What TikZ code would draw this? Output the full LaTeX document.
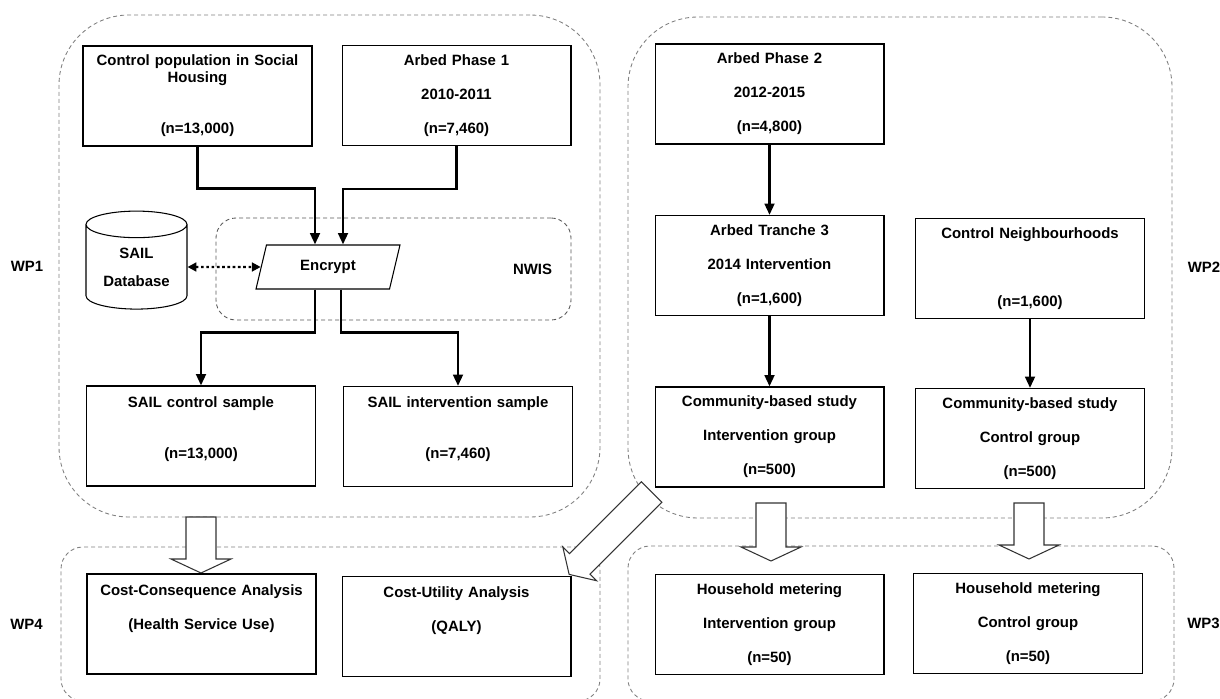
\documentclass[tikz,border=0pt]{standalone}
\usepackage{fontspec}
\setmainfont{Liberation Sans}
\usetikzlibrary{positioning,calc,fit,shapes.geometric,arrows.meta}

\begin{document}
\begin{tikzpicture}[x=0.02cm, y=-0.02cm,
    every node/.style={font=\bfseries\fontsize{8.5}{9.68}\selectfont},
    stagebox/.style={draw, line width=0.6pt, fill=white, minimum width=4.58cm, minimum height=2cm,
      text width=4.4cm, align=center, inner sep=0pt},
    wpgroup/.style={draw=gray, line width=0.5pt, dash pattern=on 0.08cm off 0.06cm,
      rounded corners=1.4cm, inner sep=0pt},
    wpsmall/.style={wpgroup, rounded corners=0.44cm},
    flow/.style={line width=1.5pt, -{Triangle[length=6.5pt,width=5.5pt]}},
    dbline/.style={line width=1.2pt, dash pattern=on 1.5pt off 1.5pt,
      {Triangle[length=5pt,width=5pt]}-{Triangle[length=5pt,width=5pt]}},
    hollowarrow/.style={draw=black!80, line width=0.6pt, fill=white},
    wplabel/.style={inner sep=0pt}]

  \useasboundingbox (0,0) rectangle (1220,699);

  % Work package groups
  \node[wpgroup, fit={(59,15) (600,517)}] (wp1) {};
  \node[wpgroup, fit={(628,17) (1172,518)}] (wp2) {};
  \node[wpsmall, fit={(628,546) (1174,701)}] (wp3) {};
  \node[wpsmall, fit={(61,547) (600,701)}] (wp4) {};
  \node[wpsmall, draw=black!65, rounded corners=0.4cm, fit={(216,218) (571,320)}] (nwis) {};

  \node[wplabel, left=0.3cm of wp1] (wp1lbl) {WP1};
  \node[wplabel, right=0.3cm of wp2] (wp2lbl) {WP2};
  \node[wplabel, right=0.25cm of wp3] (wp3lbl) {WP3};
  \node[wplabel, left=0.35cm of wp4] (wp4lbl) {WP4};
  \node[wplabel, left=0.38cm of nwis.east] (nwislbl) {NWIS};

  % Hollow arrows between work packages
  \foreach \ax/\ya/\yb in {201/517/573, 771/503/561, 1029/503/559} {
      \draw[hollowarrow] (\ax-15,\ya) -- (\ax+15,\ya) -- (\ax+15,\yb-14) -- (\ax+30,\yb-14)
        -- (\ax,\yb) -- (\ax-30,\yb-14) -- (\ax-15,\yb-14) -- cycle;
  }
  \begin{scope}[shift={(651.5,492)}, rotate=225]
      \draw[hollowarrow] (0,-14.5) -- (101.5,-14.5) -- (101.5,-24) -- (116.5,0)
        -- (101.5,24) -- (101.5,14.5) -- (0,14.5) -- cycle;
  \end{scope}

  % WP1
  \node[stagebox] (ctrlpop) at (197.5,96) {Control population in Social\\Housing\\~\\~\\(n=13,000)};
  \node[stagebox] (arbed1) at (456.5,95.5) {Arbed Phase 1\\~\\2010-2011\\~\\(n=7,460)};
  \node[cylinder, shape border rotate=90, aspect=0.4, draw, line width=0.6pt, fill=white,
    minimum width=2.02cm, minimum height=1.96cm, align=center, inner sep=0pt] (saildb) at (136.5,267)
    {SAIL\\[0.22cm]Database};
  \node[trapezium, trapezium left angle=52, trapezium right angle=128, trapezium stretches body,
    draw, line width=0.6pt, fill=white, minimum width=2.88cm, minimum height=0.88cm,
    inner sep=0pt] (encrypt) at (328,267) {Encrypt};
  \node[stagebox] (sailctrl) at (201,436) {SAIL control sample\\~\\~\\(n=13,000)\\~};
  \node[stagebox] (sailint) at (458,436.5) {SAIL intervention sample\\~\\~\\(n=7,460)\\~};

  % WP4
  \node[stagebox] (ccanal) at (201.5,624) {Cost-Consequence Analysis\\~\\(Health Service Use)\\~\\~};
  \node[stagebox] (cuanal) at (456.5,626.5) {Cost-Utility Analysis\\~\\(QALY)\\~\\~};

  % WP2
  \node[stagebox] (arbed2) at (769.5,94) {Arbed Phase 2\\~\\2012-2015\\~\\(n=4,800)};
  \node[stagebox] (tranche3) at (769.5,265.5) {Arbed Tranche 3\\~\\2014 Intervention\\~\\(n=1,600)};
  \node[stagebox] (ctrlnbh) at (1030,268.5) {Control Neighbourhoods\\~\\~\\~\\(n=1,600)};
  \node[stagebox] (commint) at (769.5,437) {Community-based study\\~\\Intervention group\\~\\(n=500)};
  \node[stagebox] (commctrl) at (1030,438.5) {Community-based study\\~\\Control group\\~\\(n=500)};

  % WP3
  \node[stagebox] (hhint) at (769.5,624.5) {Household metering\\~\\Intervention group\\~\\(n=50)};
  \node[stagebox] (hhctrl) at (1028,623.5) {Household metering\\~\\Control group\\~\\(n=50)};

  % Connectors
  \draw[flow] (ctrlpop.south) -- ++(0,42) -| ($(encrypt.north)+(-13,0)$);
  \draw[flow] (arbed1.south) -- ++(0,43) -| ($(encrypt.north)+(15,0)$);
  \draw[flow] ($(encrypt.south)+(-13,0)$) -- ++(0,43) -| (sailctrl.north);
  \draw[flow] ($(encrypt.south)+(13,0)$) -- ++(0,43) -| (sailint.north);
  \draw[dbline] (saildb) -- (encrypt);
  \draw[flow] (arbed2) -- (tranche3);
  \draw[flow] (tranche3) -- (commint);
  \draw[flow] (ctrlnbh) -- (commctrl);

\end{tikzpicture}
\end{document}
